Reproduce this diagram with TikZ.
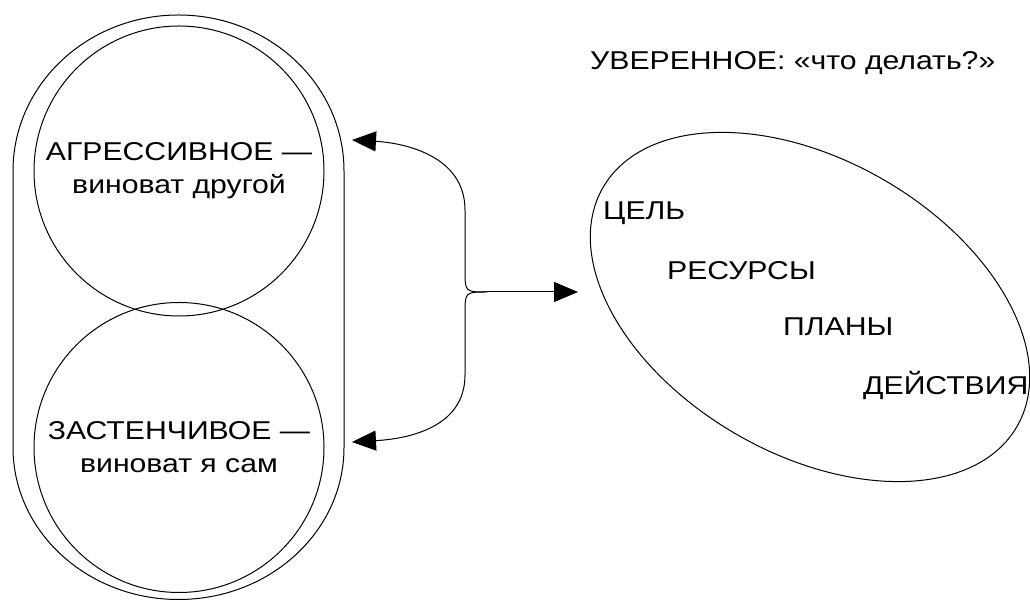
\documentclass[tikz,border=0pt]{standalone}
\usepackage{fontspec}
\setmainfont{Liberation Sans}[FakeStretch=1.17]
\usetikzlibrary{arrows.meta,shapes.geometric}

\tikzset{
  ring/.style={draw, circle, minimum size=290pt, inner sep=0pt, align=center, line width=1pt,
    font=\fontsize{25.8pt}{33pt}\selectfont},
  lbl/.style={anchor=base west, inner sep=0pt, font=\fontsize{25.8pt}{33pt}\selectfont},
  link/.style={line width=1pt, -{Triangle[length=24pt,width=20pt]}},
}

\begin{document}
\begin{tikzpicture}[x=1pt,y=1pt]
  \useasboundingbox (0,0) rectangle (1030,601);
  % outer frame round both circles
  \draw[line width=1pt] (13,153.5) -- (13,430)
    arc[start angle=180,end angle=0,x radius=165.5,y radius=156] -- (344,153.5)
    arc[start angle=0,end angle=-180,x radius=165.5,y radius=152] -- cycle;
  \node[ring] (agr) at (179,430) {АГРЕССИВНОЕ —\\виноват другой};
  \node[ring] (shy) at (179,153.5) {ЗАСТЕНЧИВОЕ —\\виноват я сам};
  % right side
  \node[draw, ellipse, rotate=-30, minimum width=478pt, minimum height=294pt, line width=1pt] (goal) at (810,294) {};
  \node[lbl] (title) at (590,531) {УВЕРЕННОЕ: «что делать?»};
  \node[lbl] (aim) at (603,381) {ЦЕЛЬ};
  \node[lbl] (res) at (667,321) {РЕСУРСЫ};
  \node[lbl] (plan) at (783,265) {ПЛАНЫ};
  \node[lbl] (act) at (863,206) {ДЕЙСТВИЯ};
  % arrows
  \coordinate (hub) at (487,309);
  \coordinate (upTip) at (352,461);
  \coordinate (downTip) at (352,159);
  \coordinate (outTip) at (578,309);
  \draw[link] (hub) .. controls (465,309) .. (465,331) -- (465,391)
    .. controls (465,445) and (405,458) .. (upTip);
  \draw[link] (hub) .. controls (465,309) .. (465,287) -- (465,226)
    .. controls (465,172) and (405,162) .. (downTip);
  \draw[link] (hub) -- (outTip);
\end{tikzpicture}
\end{document}
